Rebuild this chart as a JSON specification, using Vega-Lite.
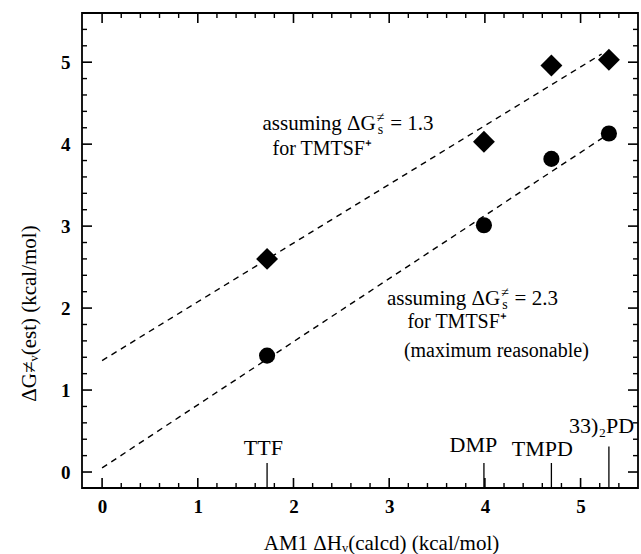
{
  "$schema": "https://vega.github.io/schema/vega-lite/v6.json",
  "width": 556,
  "height": 475,
  "autosize": "none",
  "padding": {"left": 82, "top": 13, "right": 3, "bottom": 66},
  "background": "white",
  "config": {
    "view": {"stroke": "black", "strokeWidth": 1.8},
    "font": "Liberation Serif",
    "axis": {"domain": false, "grid": false, "ticks": false, "labelColor": "black", "titleColor": "black", "labelFont": "Liberation Serif", "titleFont": "Liberation Serif", "titleFontWeight": "normal"}
  },
  "datasets": {
    "points": [
      {"compound": "TTF", "series": "1.3", "x": 1.724, "y": 2.60},
      {"compound": "DMP", "series": "1.3", "x": 3.99, "y": 4.03},
      {"compound": "TMPD", "series": "1.3", "x": 4.695, "y": 4.96},
      {"compound": "33)2PD", "series": "1.3", "x": 5.296, "y": 5.03},
      {"compound": "TTF", "series": "2.3", "x": 1.724, "y": 1.42},
      {"compound": "DMP", "series": "2.3", "x": 3.99, "y": 3.01},
      {"compound": "TMPD", "series": "2.3", "x": 4.695, "y": 3.82},
      {"compound": "33)2PD", "series": "2.3", "x": 5.296, "y": 4.13}
    ],
    "lines": [
      {"series": "1.3", "x": 0, "y": 1.36},
      {"series": "1.3", "x": 5.22, "y": 5.10},
      {"series": "2.3", "x": 0, "y": 0.05},
      {"series": "2.3", "x": 5.3, "y": 4.13}
    ],
    "compounds": [
      {"name": "TTF", "x": 1.724, "y": 0.11, "label_x": 1.685, "label_y": 0.21},
      {"name": "DMP", "x": 3.99, "y": 0.11, "label_x": 3.88, "label_y": 0.25},
      {"name": "TMPD", "x": 4.695, "y": 0.11, "label_x": 4.60, "label_y": 0.195},
      {"name": "33)₂PD", "x": 5.296, "y": 0.31, "label_x": 5.22, "label_y": 0.475}
    ],
    "ticks": [
      {"x": 0, "y": 0, "kind": "major"}, {"x": 0.2, "y": 0.2, "kind": "minor"}, {"x": 0.4, "y": 0.4, "kind": "minor"}, {"x": 0.6, "y": 0.6, "kind": "minor"}, {"x": 0.8, "y": 0.8, "kind": "minor"},
      {"x": 1, "y": 1, "kind": "major"}, {"x": 1.2, "y": 1.2, "kind": "minor"}, {"x": 1.4, "y": 1.4, "kind": "minor"}, {"x": 1.6, "y": 1.6, "kind": "minor"}, {"x": 1.8, "y": 1.8, "kind": "minor"},
      {"x": 2, "y": 2, "kind": "major"}, {"x": 2.2, "y": 2.2, "kind": "minor"}, {"x": 2.4, "y": 2.4, "kind": "minor"}, {"x": 2.6, "y": 2.6, "kind": "minor"}, {"x": 2.8, "y": 2.8, "kind": "minor"},
      {"x": 3, "y": 3, "kind": "major"}, {"x": 3.2, "y": 3.2, "kind": "minor"}, {"x": 3.4, "y": 3.4, "kind": "minor"}, {"x": 3.6, "y": 3.6, "kind": "minor"}, {"x": 3.8, "y": 3.8, "kind": "minor"},
      {"x": 4, "y": 4, "kind": "major"}, {"x": 4.2, "y": 4.2, "kind": "minor"}, {"x": 4.4, "y": 4.4, "kind": "minor"}, {"x": 4.6, "y": 4.6, "kind": "minor"}, {"x": 4.8, "y": 4.8, "kind": "minor"},
      {"x": 5, "y": 5, "kind": "major"}, {"x": 5.2, "y": 5.2, "kind": "minor"}, {"x": 5.4, "y": 5.4, "kind": "minor"}
    ],
    "notes": [
      {"part": "right", "x": 2.86, "y": 4.17, "text": "assuming ΔG"},
      {"part": "sup", "x": 2.86, "y": 4.17, "text": "≠"},
      {"part": "sub", "x": 2.86, "y": 4.17, "text": "s"},
      {"part": "left", "x": 3.01, "y": 4.17, "text": "= 1.3"},
      {"part": "center", "x": 2.30, "y": 3.87, "text": "for TMTSF⁺"},
      {"part": "right", "x": 4.16, "y": 2.04, "text": "assuming ΔG"},
      {"part": "sup", "x": 4.16, "y": 2.04, "text": "≠"},
      {"part": "sub", "x": 4.16, "y": 2.04, "text": "s"},
      {"part": "left", "x": 4.31, "y": 2.04, "text": "= 2.3"},
      {"part": "center", "x": 3.71, "y": 1.76, "text": "for TMTSF⁺"},
      {"part": "center", "x": 4.12, "y": 1.40, "text": "(maximum reasonable)"}
    ]
  },
  "layer": [
    {
      "data": {"name": "points"},
      "mark": {"type": "point", "opacity": 0},
      "encoding": {
        "x": {"field": "x", "type": "quantitative", "scale": {"domain": [-0.21, 5.6], "nice": false},
          "axis": {"orient": "bottom", "values": [0, 1, 2, 3, 4, 5], "format": "d", "labelPadding": 9, "labelFontSize": 19, "labelFontWeight": "bold",
            "title": "AM1 ΔHᵥ(calcd) (kcal/mol)", "titleFontSize": 21, "titleX": 299, "titleY": 61, "titleAlign": "center", "titleBaseline": "alphabetic"}},
        "y": {"field": "y", "type": "quantitative", "scale": {"domain": [-0.195, 5.6], "nice": false},
          "axis": {"orient": "left", "values": [0, 1, 2, 3, 4, 5], "format": "d", "labelPadding": 12, "labelFontSize": 19, "labelFontWeight": "bold",
            "title": "ΔG≠ᵥ(est) (kcal/mol)", "titleFontSize": 21, "titleAngle": 270, "titleX": -47, "titleY": 300, "titleAlign": "center", "titleBaseline": "alphabetic"}}
      }
    },
    {
      "data": {"name": "ticks"},
      "transform": [{"filter": "datum.kind === 'major'"}],
      "mark": {"type": "rule", "color": "black", "strokeWidth": 1.6},
      "encoding": {
        "x": {"field": "x", "type": "quantitative", "scale": {"domain": [-0.21, 5.6], "nice": false}},
        "y": {"datum": -0.073, "type": "quantitative", "scale": {"domain": [-0.195, 5.6], "nice": false}},
        "y2": {"value": "height"}
      }
    },
    {
      "data": {"name": "ticks"},
      "transform": [{"filter": "datum.kind === 'minor'"}],
      "mark": {"type": "rule", "color": "black", "strokeWidth": 1.4},
      "encoding": {
        "x": {"field": "x", "type": "quantitative", "scale": {"domain": [-0.21, 5.6], "nice": false}},
        "y": {"datum": -0.134, "type": "quantitative", "scale": {"domain": [-0.195, 5.6], "nice": false}},
        "y2": {"value": "height"}
      }
    },
    {
      "data": {"name": "ticks"},
      "transform": [{"filter": "datum.kind === 'major'"}],
      "mark": {"type": "rule", "color": "black", "strokeWidth": 1.6},
      "encoding": {
        "x": {"field": "x", "type": "quantitative", "scale": {"domain": [-0.21, 5.6], "nice": false}},
        "y": {"datum": 5.478, "type": "quantitative", "scale": {"domain": [-0.195, 5.6], "nice": false}},
        "y2": {"value": 0}
      }
    },
    {
      "data": {"name": "ticks"},
      "transform": [{"filter": "datum.kind === 'minor'"}],
      "mark": {"type": "rule", "color": "black", "strokeWidth": 1.4},
      "encoding": {
        "x": {"field": "x", "type": "quantitative", "scale": {"domain": [-0.21, 5.6], "nice": false}},
        "y": {"datum": 5.539, "type": "quantitative", "scale": {"domain": [-0.195, 5.6], "nice": false}},
        "y2": {"value": 0}
      }
    },
    {
      "data": {"name": "ticks"},
      "transform": [{"filter": "datum.kind === 'major'"}],
      "mark": {"type": "rule", "color": "black", "strokeWidth": 1.6},
      "encoding": {
        "y": {"field": "y", "type": "quantitative", "scale": {"domain": [-0.195, 5.6], "nice": false}},
        "x": {"datum": -0.1055, "type": "quantitative", "scale": {"domain": [-0.21, 5.6], "nice": false}},
        "x2": {"value": 0}
      }
    },
    {
      "data": {"name": "ticks"},
      "transform": [{"filter": "datum.kind === 'minor'"}],
      "mark": {"type": "rule", "color": "black", "strokeWidth": 1.4},
      "encoding": {
        "y": {"field": "y", "type": "quantitative", "scale": {"domain": [-0.195, 5.6], "nice": false}},
        "x": {"datum": -0.1578, "type": "quantitative", "scale": {"domain": [-0.21, 5.6], "nice": false}},
        "x2": {"value": 0}
      }
    },
    {
      "data": {"name": "ticks"},
      "transform": [{"filter": "datum.kind === 'major'"}],
      "mark": {"type": "rule", "color": "black", "strokeWidth": 1.6},
      "encoding": {
        "y": {"field": "y", "type": "quantitative", "scale": {"domain": [-0.195, 5.6], "nice": false}},
        "x": {"datum": 5.4955, "type": "quantitative", "scale": {"domain": [-0.21, 5.6], "nice": false}},
        "x2": {"value": "width"}
      }
    },
    {
      "data": {"name": "ticks"},
      "transform": [{"filter": "datum.kind === 'minor'"}],
      "mark": {"type": "rule", "color": "black", "strokeWidth": 1.4},
      "encoding": {
        "y": {"field": "y", "type": "quantitative", "scale": {"domain": [-0.195, 5.6], "nice": false}},
        "x": {"datum": 5.5478, "type": "quantitative", "scale": {"domain": [-0.21, 5.6], "nice": false}},
        "x2": {"value": "width"}
      }
    },
    {
      "data": {"name": "lines"},
      "mark": {"type": "line", "color": "black", "strokeWidth": 1.4, "strokeDash": [6, 5]},
      "encoding": {
        "x": {"field": "x", "type": "quantitative", "scale": {"domain": [-0.21, 5.6], "nice": false}},
        "y": {"field": "y", "type": "quantitative", "scale": {"domain": [-0.195, 5.6], "nice": false}},
        "detail": {"field": "series"},
        "order": {"field": "x"}
      }
    },
    {
      "data": {"name": "compounds"},
      "mark": {"type": "rule", "color": "black", "strokeWidth": 1.3},
      "encoding": {
        "x": {"field": "x", "type": "quantitative", "scale": {"domain": [-0.21, 5.6], "nice": false}},
        "y": {"field": "y", "type": "quantitative", "scale": {"domain": [-0.195, 5.6], "nice": false}},
        "y2": {"value": "height"}
      }
    },
    {
      "data": {"name": "compounds"},
      "mark": {"type": "text", "color": "black", "fontSize": 22, "font": "Liberation Serif", "align": "center", "baseline": "alphabetic"},
      "encoding": {
        "x": {"field": "label_x", "type": "quantitative", "scale": {"domain": [-0.21, 5.6], "nice": false}},
        "y": {"field": "label_y", "type": "quantitative", "scale": {"domain": [-0.195, 5.6], "nice": false}},
        "text": {"field": "name"}
      }
    },
    {
      "data": {"name": "points"},
      "transform": [{"filter": "datum.series === '1.3'"}],
      "mark": {"type": "point", "shape": "diamond", "size": 480, "filled": true, "opacity": 1, "color": "black", "strokeWidth": 0},
      "encoding": {
        "x": {"field": "x", "type": "quantitative", "scale": {"domain": [-0.21, 5.6], "nice": false}},
        "y": {"field": "y", "type": "quantitative", "scale": {"domain": [-0.195, 5.6], "nice": false}}
      }
    },
    {
      "data": {"name": "points"},
      "transform": [{"filter": "datum.series === '2.3'"}],
      "mark": {"type": "point", "shape": "circle", "size": 260, "filled": true, "opacity": 1, "color": "black", "strokeWidth": 0},
      "encoding": {
        "x": {"field": "x", "type": "quantitative", "scale": {"domain": [-0.21, 5.6], "nice": false}},
        "y": {"field": "y", "type": "quantitative", "scale": {"domain": [-0.195, 5.6], "nice": false}}
      }
    },
    {
      "data": {"name": "notes"},
      "transform": [{"filter": "datum.part === 'right'"}],
      "mark": {"type": "text", "color": "black", "fontSize": 21, "font": "Liberation Serif", "align": "right", "baseline": "alphabetic"},
      "encoding": {
        "x": {"field": "x", "type": "quantitative", "scale": {"domain": [-0.21, 5.6], "nice": false}},
        "y": {"field": "y", "type": "quantitative", "scale": {"domain": [-0.195, 5.6], "nice": false}},
        "text": {"field": "text"}
      }
    },
    {
      "data": {"name": "notes"},
      "transform": [{"filter": "datum.part === 'left'"}],
      "mark": {"type": "text", "color": "black", "fontSize": 21, "font": "Liberation Serif", "align": "left", "baseline": "alphabetic"},
      "encoding": {
        "x": {"field": "x", "type": "quantitative", "scale": {"domain": [-0.21, 5.6], "nice": false}},
        "y": {"field": "y", "type": "quantitative", "scale": {"domain": [-0.195, 5.6], "nice": false}},
        "text": {"field": "text"}
      }
    },
    {
      "data": {"name": "notes"},
      "transform": [{"filter": "datum.part === 'center'"}],
      "mark": {"type": "text", "color": "black", "fontSize": 20, "font": "Liberation Serif", "align": "center", "baseline": "alphabetic"},
      "encoding": {
        "x": {"field": "x", "type": "quantitative", "scale": {"domain": [-0.21, 5.6], "nice": false}},
        "y": {"field": "y", "type": "quantitative", "scale": {"domain": [-0.195, 5.6], "nice": false}},
        "text": {"field": "text"}
      }
    },
    {
      "data": {"name": "notes"},
      "transform": [{"filter": "datum.part === 'sup'"}],
      "mark": {"type": "text", "color": "black", "fontSize": 14, "font": "Liberation Serif", "align": "left", "baseline": "alphabetic", "dx": 1, "dy": -8},
      "encoding": {
        "x": {"field": "x", "type": "quantitative", "scale": {"domain": [-0.21, 5.6], "nice": false}},
        "y": {"field": "y", "type": "quantitative", "scale": {"domain": [-0.195, 5.6], "nice": false}},
        "text": {"field": "text"}
      }
    },
    {
      "data": {"name": "notes"},
      "transform": [{"filter": "datum.part === 'sub'"}],
      "mark": {"type": "text", "color": "black", "fontSize": 14, "font": "Liberation Serif", "align": "left", "baseline": "alphabetic", "dx": 2, "dy": 4},
      "encoding": {
        "x": {"field": "x", "type": "quantitative", "scale": {"domain": [-0.21, 5.6], "nice": false}},
        "y": {"field": "y", "type": "quantitative", "scale": {"domain": [-0.195, 5.6], "nice": false}},
        "text": {"field": "text"}
      }
    }
  ]
}
